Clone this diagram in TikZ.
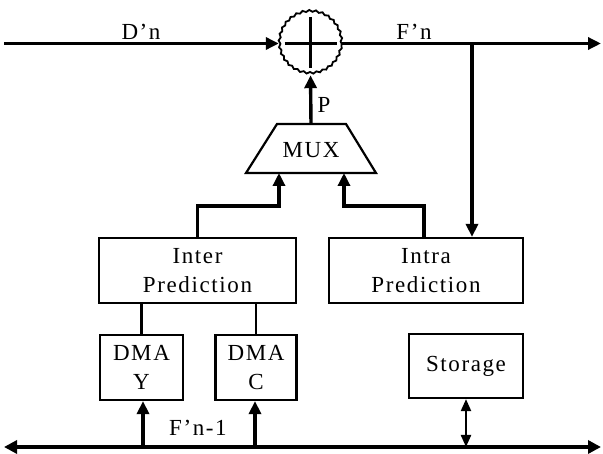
\documentclass[tikz,border=0pt]{standalone}
\usepackage{fontspec}
\setmainfont{Liberation Serif}[LetterSpace=7]
\usetikzlibrary{arrows.meta,decorations.pathmorphing}
\begin{document}
\begin{tikzpicture}[x=1pt,y=-1pt,
  txt/.style={font=\fontsize{23}{28.5}\selectfont},
  box/.style={draw, line width=2.2pt, inner sep=0pt, align=center, txt},
  sig/.style={line width=3.4pt, -{Triangle[length=13pt,width=12pt]}},
  wire/.style={line width=2.8pt},
  lbl/.style={txt, inner sep=0pt},
  bus/.style={line width=3.4pt, {Triangle[length=13pt,width=13pt]}-{Triangle[length=13pt,width=13pt]}},
  bidir/.style={line width=2.2pt, {Triangle[length=12pt,width=10pt]}-{Triangle[length=12pt,width=10pt]}}]
\useasboundingbox (0,0) rectangle (603,454);

% adder
\node[circle, minimum size=63pt, inner sep=0pt] (adder) at (310.5,43.5) {};
\draw[line width=1.8pt, decorate, decoration={snake, segment length=6.6pt, amplitude=0.9pt}]
  (adder.center) circle[radius=31pt];
\draw[line width=3.4pt] ([xshift=-26pt]adder.center) -- ([xshift=26pt]adder.center);
\draw[line width=3.4pt] ([yshift=26.5pt]adder.center) -- ([yshift=-24.5pt]adder.center);

% MUX (trapezoid drawn directly)
\coordinate (muxtop) at (311,124);
\coordinate (muxbot) at (311,173);
\draw[line width=2.2pt, line join=miter] (277,124) -- (346,124) -- (376,173) -- (246,173) -- cycle;
\node[lbl] (mux) at (311,150) {MUX};

% boxes
\node[box, minimum width=197pt, minimum height=65pt] (inter) at (197.5,270.5) {Inter\\Prediction};
\node[box, minimum width=194pt, minimum height=65pt] (intra) at (426,270.5) {Intra\\Prediction};
\node[box, minimum width=83pt, minimum height=65pt] (dmay) at (141.5,367.5) {DMA\\Y};
\node[box, minimum width=81pt, minimum height=65pt] (dmac) at (256,367.5) {DMA\\C};
\node[box, minimum width=114pt, minimum height=64pt] (storage) at (466,366) {Storage};

% coordinates
\coordinate (in) at (4,43.5);
\coordinate (out) at (601,43.5);
\coordinate (br) at (472,43.5);
\coordinate (busL) at (4,447);
\coordinate (busR) at (601,447);

% top signal line
\draw[sig] (in) -- (adder.west);
\draw[sig] (adder.east) -- (out);
\draw[sig] (br) -- (br |- intra.north);
\draw[sig] (muxtop) -- (adder.south);

% predictions to mux
\draw[sig] (inter.north) -- ++(0,-31) -| ([xshift=-32pt]muxbot);
\draw[sig] ([xshift=-2pt]intra.north) -- ++(0,-31) -| ([xshift=33pt]muxbot);

% inter to DMA
\draw[wire] (dmay.north) -- (dmay.north |- inter.south);
\draw[wire] (dmac.north) -- (dmac.north |- inter.south);

% bus
\draw[bus] (busL) -- (busR);
\draw[sig] ([xshift=1.5pt]dmay.south |- busL) -- ([xshift=1.5pt]dmay.south);
\draw[sig] ([xshift=-1pt]dmac.south |- busL) -- ([xshift=-1pt]dmac.south);
\draw[bidir] (storage.south) -- (storage.south |- busL);

% labels
\node[lbl] (dn) at (141,32) {D’n};
\node[lbl] (fn) at (414,32) {F’n};
\node[lbl] (p) at (324,105) {P};
\node[lbl] (fn1) at (198,428) {F’n-1};
\end{tikzpicture}
\end{document}
